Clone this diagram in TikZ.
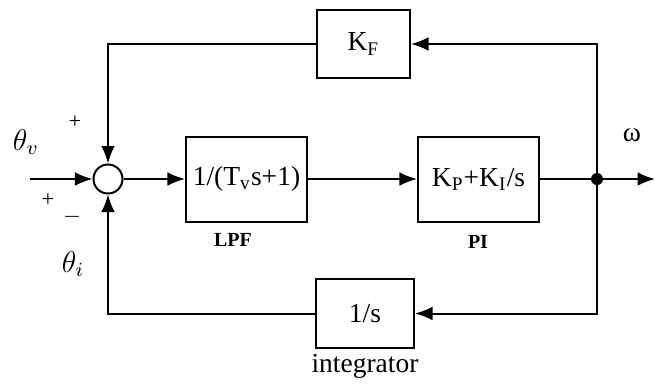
\documentclass[tikz,border=0pt]{standalone}
\usepackage{fontspec}
\setmainfont{Liberation Serif}
\usetikzlibrary{arrows.meta}

\begin{document}
\begin{tikzpicture}[x=0.4pt, y=-0.4pt, line width=0.8pt, >={Latex[length=7pt,width=5.5pt]},
  blk/.style={draw,minimum width=48.4pt,minimum height=34pt,inner sep=0pt,font=\fontsize{11}{13}\selectfont},
  tag/.style={font=\fontsize{8}{10}\selectfont\bfseries},
  sign/.style={font=\fontsize{9}{10}\selectfont,inner sep=0pt}]
\useasboundingbox (0,0) rectangle (655,383);
\node[draw,circle,minimum size=11.6pt,inner sep=0pt] (sum) at (108,179) {};
\node[blk] (lpf) at (246.5,179) {1/(T\textsubscript{v}s+1)};
\node[blk] (pi) at (478.5,179) {K\textsubscript{P}+K\textsubscript{I}/s};
\node[blk,minimum width=37.2pt,minimum height=27.2pt] (kf) at (363.5,44) {K\textsubscript{F}};
\node[blk,minimum width=39.2pt,minimum height=27.6pt] (int) at (365,313.5) {1/s};
\node[circle,fill,inner sep=0pt,minimum size=4.8pt] (dot) at (597,179) {};
\coordinate (in) at (30,179);
\coordinate (out) at (655,179);
\node[tag] (lpftag) at (233,240) {LPF};
\node[tag] (pitag) at (478,242) {PI};
\node[font=\fontsize{11}{13}\selectfont] (inttag) at (365,366) {integrator};
\node[font=\fontsize{11}{13}\selectfont] (omega) at (632,135) {ω};
\node[font=\fontsize{12}{14}\selectfont] (thv) at (26,142) {$\theta_v$};
\node[font=\fontsize{12}{14}\selectfont] (thi) at (73,264) {$\theta_i$};
\node[sign] (p1) at (75,122) {+};
\node[sign] (p2) at (48,200) {+};
\node[sign] (m1) at (72,217) {$-$};
\draw[->] (in) -- (sum);
\draw[->] (sum) -- (lpf);
\draw[->] (lpf) -- (pi);
\draw[->] (pi) -- (out);
\draw[->] (dot.center) |- (kf);
\draw[->] (kf) -| (sum);
\draw[->] (dot.center) |- (int);
\draw[->] (int) -| (sum);
\end{tikzpicture}
\end{document}
